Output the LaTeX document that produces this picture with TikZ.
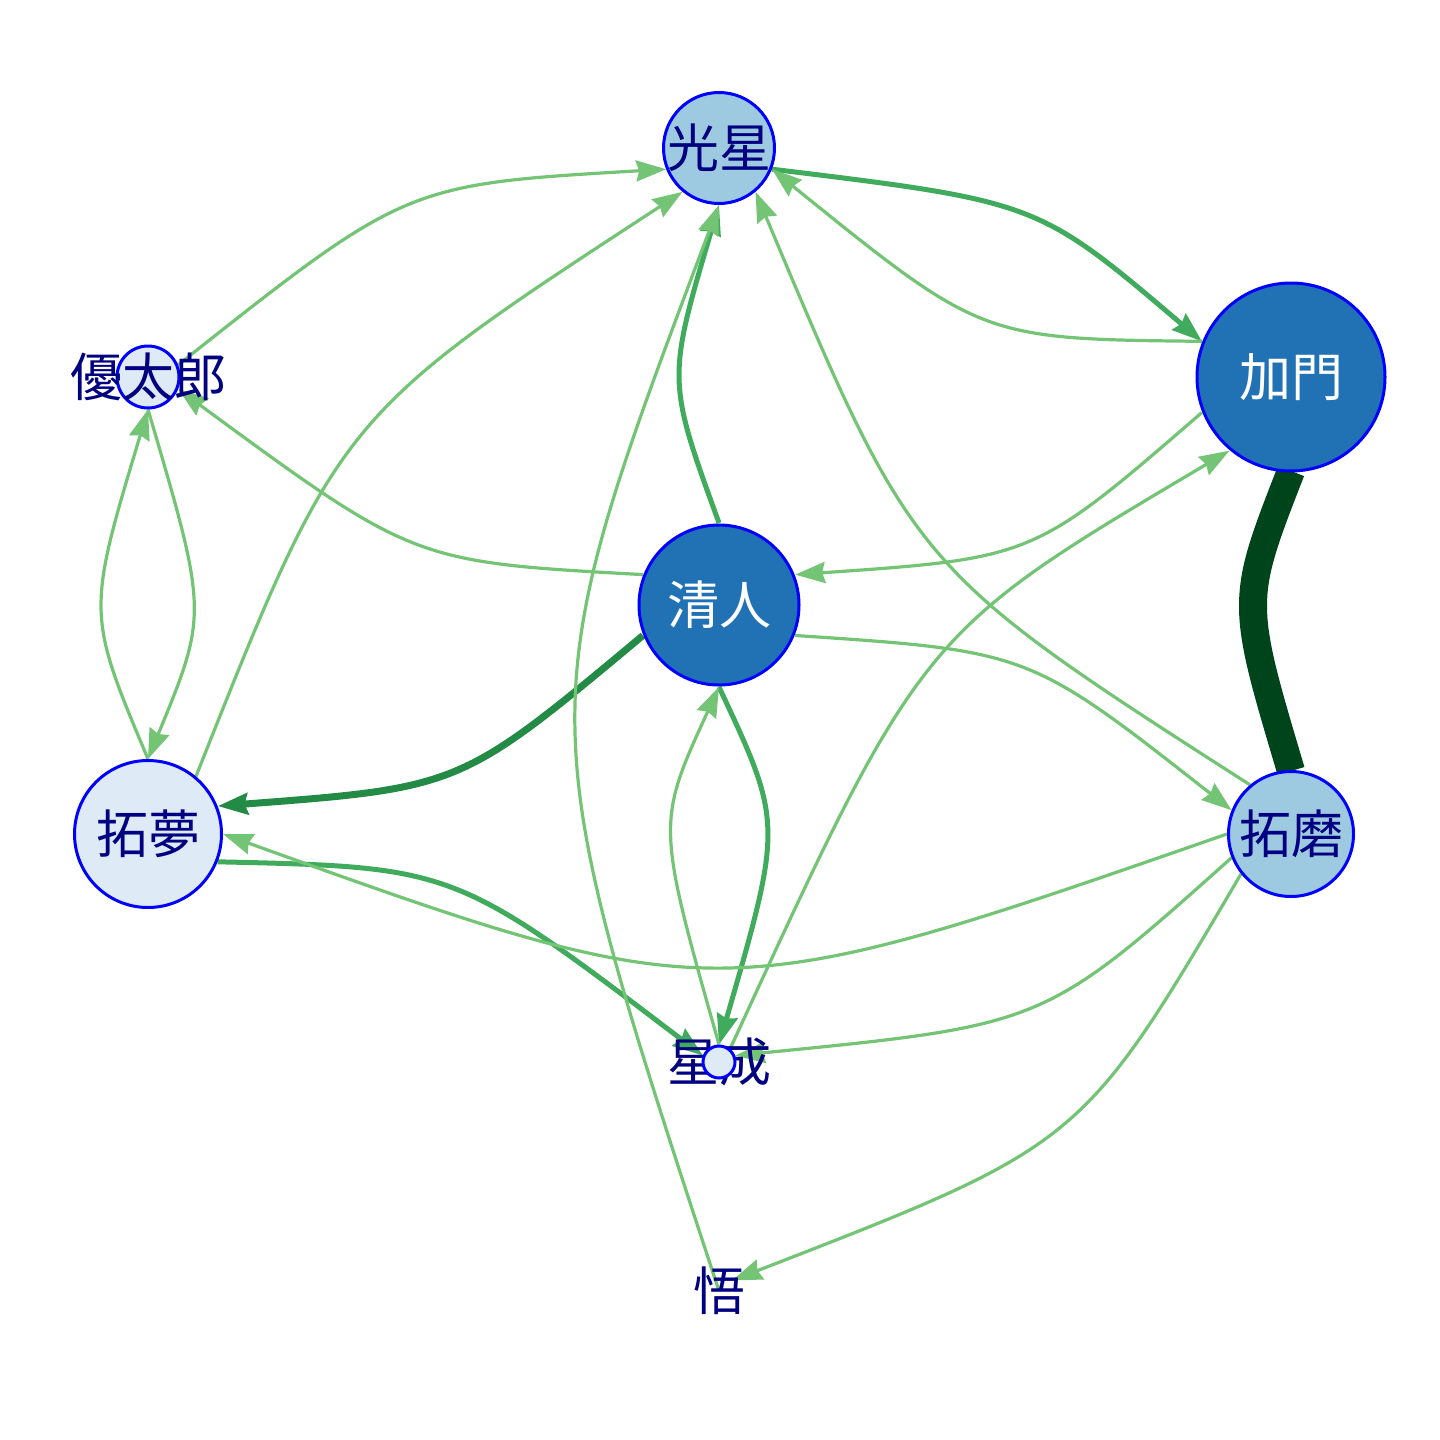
\documentclass[tikz,border=0pt]{standalone}
\usepackage{fontspec}
\newfontfamily\cjk{Noto Sans CJK JP}
\usetikzlibrary{arrows.meta,calc}
\pgfdeclarelayer{bglayer}
\pgfdeclarelayer{edgelayer}
\pgfdeclarelayer{lbllayer}
\pgfsetlayers{bglayer,edgelayer,lbllayer,main}
\definecolor{nlight}{HTML}{DEEBF7}
\definecolor{nmid}{HTML}{9ECAE1}
\definecolor{ndark}{HTML}{2171B5}
\definecolor{nborder}{HTML}{0000FF}
\definecolor{ltxt}{HTML}{000080}
\definecolor{eone}{HTML}{74C476}
\definecolor{etwo}{HTML}{41AB5D}
\definecolor{ethree}{HTML}{238B45}
\definecolor{efour}{HTML}{00441B}
% curved edge: style, from node, its radius, to node, its radius, apex point
\newcommand\cedge[6]{%
  \path ($(#2)!#3!(#4)$) coordinate (p0) ($(#4)!#5!(#2)$) coordinate (p1);
  \draw[#1] (p0) .. controls ($1.333333*(#6)-0.1666667*(p0)-0.1666667*(p1)$) .. (p1);}
\begin{document}
\begin{tikzpicture}[x=0.5pt,y=-0.5pt,
  vtx/.style={circle,draw=nborder,line width=1.5pt,inner sep=0pt},
  lbl/.style={font=\cjk\fontsize{26pt}{26pt}\selectfont,text=ltxt,inner sep=0pt},
  wlbl/.style={lbl,text=white},
  tip/.style={-{Stealth[length=15pt,width=10.5pt,inset=1.5pt]}},
  ethin/.style={draw=eone,line width=1.6pt,tip},
  emed/.style={draw=etwo,line width=2.5pt,tip},
  edark/.style={draw=ethree,line width=3.5pt,tip},
  eheavy/.style={draw=efour,line width=14pt}
]
\begin{pgfonlayer}{bglayer}
\fill[white] (0,0) rectangle (1440,1440);
\end{pgfonlayer}
\useasboundingbox (0,0) rectangle (1440,1440);

% vertices
\node[vtx,fill=nmid,minimum size=55.5pt] (G) at (719,148) {};
\node[vtx,fill=ndark,minimum size=94pt] (K) at (1291,377) {};
\node[vtx,fill=nlight,minimum size=31pt] (Y) at (148,377) {};
\node[vtx,fill=ndark,minimum size=80pt] (S) at (719,605) {};
\node[vtx,fill=nlight,minimum size=73.5pt] (M) at (148,834) {};
\node[vtx,fill=nmid,minimum size=62.5pt] (T) at (1291,834) {};
\node[vtx,fill=nlight,minimum size=16pt] (H) at (719,1062) {};
\coordinate (W) at (719,1291);

% labels
\node[lbl] (Glbl) at (G) {光星};
\node[wlbl] (Klbl) at (K) {加門};
\node[lbl] (Ylbl) at (Y) {優太郎};
\node[wlbl] (Slbl) at (S) {清人};
\node[lbl] (Mlbl) at (M) {拓夢};
\node[lbl] (Tlbl) at (T) {拓磨};
\begin{pgfonlayer}{lbllayer}
\node[lbl] (Hlbl) at (H) {星成};
\node[lbl] (Wlbl) at (W) {悟};
\end{pgfonlayer}

% edges
\begin{pgfonlayer}{edgelayer}
\cedge{eheavy}{K}{47pt}{T}{31.5pt}{1253,606}
\cedge{emed}{G}{28.5pt}{K}{48pt}{1025,215}
\cedge{ethin}{K}{48pt}{G}{28.5pt}{983,318}
\cedge{ethin}{K}{48pt}{S}{41pt}{1025,542}
\cedge{ethin}{H}{8.75pt}{K}{48pt}{936,662}
\cedge{emed}{S}{41pt}{G}{28.5pt}{680,376}
\cedge{ethin}{S}{41pt}{Y}{16.25pt}{413,542}
\cedge{edark}{S}{41pt}{M}{37.5pt}{453,771}
\cedge{ethin}{S}{41pt}{T}{32pt}{1025,669}
\cedge{emed}{S}{41pt}{H}{8.75pt}{767,834}
\cedge{ethin}{H}{8.75pt}{S}{41pt}{672,834}
\cedge{ethin}{Y}{16.25pt}{G}{28.5pt}{410,205}
\cedge{ethin}{Y}{16.25pt}{M}{37.5pt}{193,606}
\cedge{ethin}{M}{37.5pt}{Y}{16.25pt}{102,606}
\cedge{ethin}{M}{37.5pt}{G}{28.5pt}{364,433}
\cedge{emed}{M}{37.5pt}{H}{8.75pt}{456,890}
\cedge{ethin}{T}{32pt}{M}{37.5pt}{719,967}
\cedge{ethin}{T}{32pt}{G}{28.5pt}{936,549}
\cedge{ethin}{T}{32pt}{H}{8.75pt}{1029,1008}
\cedge{ethin}{T}{32pt}{W}{8.5pt}{1058,1128}
\cedge{ethin}{W}{0pt}{G}{28.5pt}{576,720}
\end{pgfonlayer}
\end{tikzpicture}
\end{document}
